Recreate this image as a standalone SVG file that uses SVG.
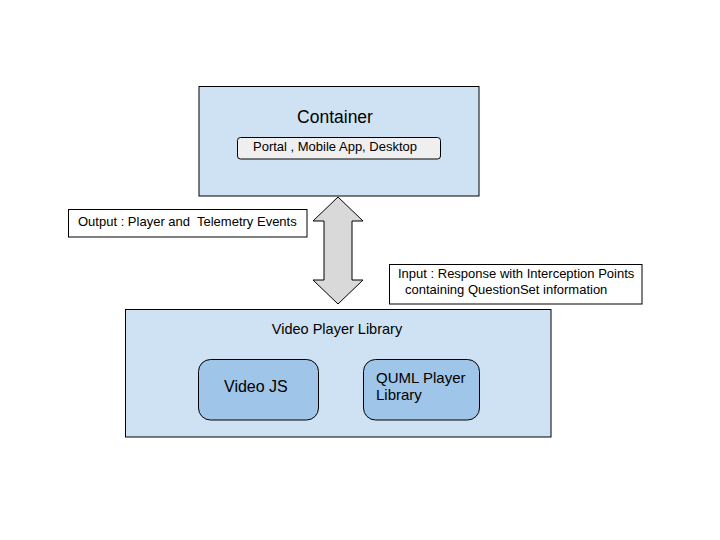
<svg xmlns="http://www.w3.org/2000/svg" width="720" height="540" viewBox="0 0 720 540">
<style>
text{font-family:"Liberation Sans",Arial,sans-serif;fill:#000;white-space:pre}
.box{stroke:#000;stroke-width:1}
.outer{fill:#cfe2f3}
.inner{fill:#9fc5e8}
.label{fill:#fff}
</style>
<rect width="720" height="540" fill="#fff"/>
<g id="container">
<rect class="box outer" x="199" y="86.5" width="280" height="109.5"/>
<text x="335" y="123" font-size="17.5" text-anchor="middle">Container</text>
<rect class="box" x="237.5" y="137.5" width="203" height="21.5" rx="3" fill="#efefef"/>
<text x="253" y="151" font-size="13">Portal , Mobile App, Desktop</text>
</g>
<g id="output-label">
<rect class="box label" x="68.5" y="209.5" width="238.5" height="27.5"/>
<text x="78" y="226" font-size="13" xml:space="preserve">Output : Player and  Telemetry Events</text>
</g>
<g id="input-label">
<rect class="box label" x="389.5" y="264.5" width="252.5" height="39.5"/>
<text x="398" y="278" font-size="13">Input : Response with Interception Points</text>
<text x="405" y="294" font-size="13">containing QuestionSet information</text>
</g>
<g id="video-player-library">
<rect class="box outer" x="125.5" y="309.5" width="425.5" height="127.5"/>
<text x="337" y="334" font-size="14.5" text-anchor="middle">Video Player Library</text>
</g>
<g id="video-js">
<rect class="box inner" x="198.5" y="359.5" width="120" height="60.5" rx="12"/>
<text x="224" y="392" font-size="16">Video JS</text>
</g>
<g id="quml-player-library">
<rect class="box inner" x="363.5" y="359.5" width="116" height="60.5" rx="12"/>
<text x="376" y="383" font-size="15">QUML Player</text>
<text x="376" y="400" font-size="15">Library</text>
</g>
<g id="connectors">
<path d="M338 197 L363 221 L352 221 L352 280 L363 280 L338 304 L313 280 L324 280 L324 221 L313 221 Z" fill="#d9d9d9" stroke="#000" stroke-width="1"/>
</g>
</svg>
